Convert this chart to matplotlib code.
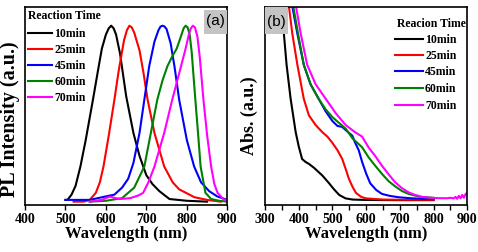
import matplotlib
matplotlib.use("Agg")
import matplotlib.pyplot as plt
from matplotlib.patches import Rectangle

# ---------------- data: panel (a) PL spectra ----------------
series_labels = ["10min", "25min", "45min", "60min", "70min"]
series_colors = ["#000000", "#ff0000", "#0000ff", "#008000", "#ff00ff"]

wl_pl_10 = [500, 505, 515, 525, 537, 550, 568, 580, 590, 600, 607, 613, 619, 625, 635, 650, 668, 683, 700, 715, 732, 757, 800, 850]
pl_10 = [0.01, 0.01, 0.04, 0.09, 0.20, 0.35, 0.58, 0.74, 0.87, 0.95, 0.985, 1.00, 0.985, 0.95, 0.84, 0.60, 0.39, 0.26, 0.15, 0.10, 0.06, 0.015, 0.005, 0.0]

wl_pl_25 = [520, 545, 560, 575, 585, 594, 608, 621, 632, 645, 652, 658, 664, 670, 683, 693, 703, 720, 744, 765, 781, 819, 850, 884]
pl_25 = [0.0, 0.0, 0.01, 0.05, 0.11, 0.20, 0.39, 0.58, 0.75, 0.92, 0.975, 1.00, 0.99, 0.96, 0.86, 0.73, 0.58, 0.39, 0.20, 0.11, 0.07, 0.025, 0.01, 0.0]

wl_pl_45 = [500, 560, 600, 621, 640, 655, 668, 683, 695, 707, 720, 730, 735, 740, 745, 750, 760, 770, 781, 800, 818, 835, 855, 875, 900]
pl_45 = [0.01, 0.01, 0.03, 0.04, 0.08, 0.13, 0.22, 0.39, 0.58, 0.77, 0.91, 0.975, 0.995, 1.00, 0.995, 0.98, 0.90, 0.76, 0.58, 0.35, 0.20, 0.11, 0.06, 0.03, 0.01]

wl_pl_60 = [560, 600, 640, 670, 695, 711, 727, 740, 752, 765, 775, 787, 792, 797, 802, 807, 812, 821, 828, 834, 846, 860, 880, 900]
pl_60 = [0.0, 0.005, 0.02, 0.08, 0.20, 0.39, 0.58, 0.69, 0.77, 0.83, 0.87, 0.95, 0.985, 1.00, 0.99, 0.95, 0.85, 0.58, 0.38, 0.20, 0.05, 0.015, 0.005, 0.0]

wl_pl_70 = [560, 590, 605, 612, 620, 635, 660, 680, 692, 705, 720, 744, 764, 780, 797, 805, 810, 815, 820, 826, 832, 841, 850, 860, 868, 876, 890, 900]
pl_70 = [0.0, 0.01, 0.025, 0.028, 0.022, 0.015, 0.02, 0.035, 0.05, 0.11, 0.20, 0.39, 0.58, 0.72, 0.87, 0.95, 0.985, 1.00, 0.99, 0.94, 0.82, 0.58, 0.38, 0.20, 0.10, 0.05, 0.015, 0.005]

# ---------------- data: panel (b) absorption spectra ----------------
wl_ab_10 = [352, 356, 364, 376, 391, 400, 410, 420, 430, 445, 470, 490, 504, 520, 539, 560, 600, 700, 800]
ab_10 = [1.05, 0.86, 0.70, 0.525, 0.353, 0.28, 0.215, 0.20, 0.19, 0.17, 0.13, 0.09, 0.06, 0.03, 0.012, 0.006, 0.004, 0.003, 0.003]

wl_ab_25 = [368, 371, 381, 396, 415, 430, 450, 470, 485, 499, 515, 529, 540, 549, 560, 570, 585, 600, 650, 700, 800]
ab_25 = [1.05, 1.0, 0.86, 0.70, 0.525, 0.44, 0.39, 0.353, 0.33, 0.30, 0.26, 0.215, 0.16, 0.112, 0.07, 0.04, 0.02, 0.012, 0.006, 0.005, 0.005]

wl_ab_45 = [378, 381, 396, 415, 435, 459, 480, 500, 515, 529, 545, 559, 567, 578, 588, 600, 612, 630, 647, 670, 696, 730, 765, 800]
ab_45 = [1.05, 1.0, 0.86, 0.70, 0.60, 0.525, 0.46, 0.41, 0.385, 0.38, 0.355, 0.335, 0.30, 0.26, 0.20, 0.14, 0.09, 0.055, 0.035, 0.025, 0.018, 0.013, 0.01, 0.008]

wl_ab_60 = [381, 384, 398, 415, 435, 459, 480, 500, 520, 540, 560, 588, 607, 627, 647, 667, 686, 706, 726, 760, 800]
ab_60 = [1.05, 1.0, 0.86, 0.70, 0.60, 0.525, 0.47, 0.43, 0.40, 0.37, 0.32, 0.275, 0.224, 0.18, 0.138, 0.10, 0.074, 0.05, 0.035, 0.02, 0.015]

wl_ab_70 = [389, 392, 406, 425, 450, 480, 510, 539, 567, 588, 607, 627, 647, 667, 686, 706, 726, 745, 765, 790, 820, 840, 850, 860, 865, 870, 875, 880, 885, 890, 895, 900]
ab_70 = [1.05, 1.0, 0.86, 0.70, 0.60, 0.525, 0.45, 0.39, 0.353, 0.33, 0.275, 0.23, 0.18, 0.135, 0.095, 0.065, 0.043, 0.03, 0.02, 0.015, 0.013, 0.013, 0.015, 0.012, 0.02, 0.01, 0.025, 0.012, 0.03, 0.015, 0.035, 0.04]

pl_x = [wl_pl_10, wl_pl_25, wl_pl_45, wl_pl_60, wl_pl_70]
pl_y = [pl_10, pl_25, pl_45, pl_60, pl_70]
ab_x = [wl_ab_10, wl_ab_25, wl_ab_45, wl_ab_60, wl_ab_70]
ab_y = [ab_10, ab_25, ab_45, ab_60, ab_70]

pl_xticks = [400, 500, 600, 700, 800, 900]
ab_xticks = [300, 400, 500, 600, 700, 800, 900]

SERIF = ["Liberation Serif", "DejaVu Serif"]
SANS = ["Liberation Sans", "DejaVu Sans"]

W, H = 478, 253
fig = plt.figure(figsize=(W / 100, H / 100), dpi=100)
axa = fig.add_axes([25 / W, 1 - 206 / H, (227.3 - 25) / W, (206 - 7.5) / H])
axb = fig.add_axes([265 / W, 1 - 206 / H, (467.3 - 265) / W, (206 - 7.5) / H])

lw = 1.5
for x, y, c in zip(pl_x, pl_y, series_colors):
    axa.plot(x, y, color=c, lw=lw, solid_joinstyle="round")
for x, y, c in zip(ab_x, ab_y, series_colors):
    axb.plot(x, y, color=c, lw=lw, solid_joinstyle="round")

axa.set_xlim(400, 900)
axa.set_ylim(-0.019, 1.109)
axb.set_xlim(300, 900)
axb.set_ylim(-0.022, 1.0)

for ax, ticks in ((axa, pl_xticks), (axb, ab_xticks)):
    ax.set_xticks(ticks)
    ax.set_xticklabels([str(t) for t in ticks], family=SERIF, fontweight="bold", fontsize=10)
    ax.set_yticks([])
    ax.tick_params(axis="x", direction="out", length=3.5, width=1.0, pad=1.5)
    for s in ax.spines.values():
        s.set_linewidth(1.2)
    ax.set_xlabel("Wavelength (nm)", family=SERIF, fontweight="bold", fontsize=12, labelpad=0)

axb.set_xticks([350, 450, 550, 650, 750, 850], minor=True)
axb.tick_params(axis="x", which="minor", direction="out", length=3.5, width=1.0)

def ax_y(py):
    return (206 - py) / (206 - 7.5)

def axa_x(px):
    return (px - 25) / (227.3 - 25)

def axb_x(px):
    return (px - 265) / (467.3 - 265)

# y labels as figure texts (pixel-centred)
fig.text(10.5 / W, 1 - 119 / H, "PL Intensity (a.u.)", family=SERIF, fontweight="bold",
         fontsize=14.5, rotation=90, ha="center", va="center")
fig.text(249 / W, 1 - 116 / H, "Abs. (a.u.)", family=SERIF, fontweight="bold",
         fontsize=13, rotation=90, ha="center", va="center")

# manual legends
def draw_legend(ax, title, tx, ty, hx0, hx1, txt_x, ys):
    ax.text(tx, ty, title, transform=ax.transAxes, family=SERIF, fontweight="bold",
            fontsize=8.5, ha="left", va="center")
    for lab, col, yy in zip(series_labels, series_colors, ys):
        ax.plot([hx0, hx1], [yy, yy], transform=ax.transAxes, color=col, lw=lw)
        ax.text(txt_x, yy, lab, transform=ax.transAxes, family=SERIF, fontweight="bold",
                fontsize=8.5, ha="left", va="center")

draw_legend(axa, "Reaction Time", axa_x(28), ax_y(16), axa_x(28), axa_x(52), axa_x(54.5),
            [ax_y(34), ax_y(50), ax_y(66), ax_y(82), ax_y(98)])
draw_legend(axb, "Reacion Time", axb_x(397), ax_y(24), axb_x(395), axb_x(423), axb_x(425),
            [ax_y(40), ax_y(56), ax_y(72), ax_y(89), ax_y(106)])

# panel tags with grey boxes
axa.add_patch(Rectangle((axa_x(204), ax_y(35)), axa_x(227.3) - axa_x(204), ax_y(11) - ax_y(35),
                        transform=axa.transAxes, fc="#c4c4c4", ec="none", zorder=4))
axa.text(axa_x(215.5), ax_y(21.5), "(a)", transform=axa.transAxes, family=SANS, fontsize=11,
         ha="center", va="center", zorder=5)
axb.add_patch(Rectangle((axb_x(265), ax_y(35)), axb_x(288) - axb_x(265), ax_y(7.5) - ax_y(35),
                        transform=axb.transAxes, fc="#c4c4c4", ec="none", zorder=4))
axb.text(axb_x(276), ax_y(22), "(b)", transform=axb.transAxes, family=SANS, fontsize=11,
         ha="center", va="center", zorder=5)

fig.savefig("out.png", dpi=100)
